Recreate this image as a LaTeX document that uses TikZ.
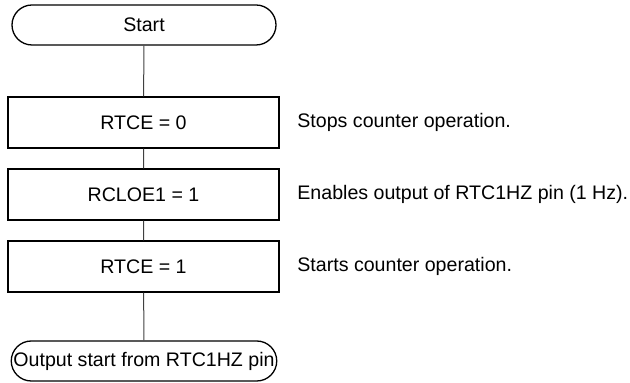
\documentclass[tikz,border=0pt]{standalone}
\usepackage{fontspec}
\setmainfont{Liberation Sans}
\usepackage{tikz}
\usetikzlibrary{shapes.misc}

\begin{document}
\begin{tikzpicture}[x=0.5pt,y=-0.5pt,
  font=\fontsize{9.8}{11}\selectfont,
  terminal/.style={draw,rounded rectangle,line width=0.65pt,minimum width=132pt,minimum height=20pt,inner sep=0pt},
  stepbox/.style={draw,rectangle,line width=0.65pt,minimum width=135.5pt,minimum height=25.5pt,inner sep=0pt},
  note/.style={anchor=west,inner sep=0pt},
  flow/.style={draw=black!75,line width=0.5pt}]
  \useasboundingbox (0,0) rectangle (630,383);
  \node[terminal] (start) at (144,25) {Start};
  \node[stepbox] (stop) at (143.5,122.5) {RTCE = 0};
  \node[stepbox] (enable) at (143.5,194.5) {RCLOE1 = 1};
  \node[stepbox] (run) at (143.5,266.5) {RTCE = 1};
  \node[terminal] (output) at (144,361) {Output start from RTC1HZ pin};
  \node[note] (stopnote) at (297,122) {Stops counter operation.};
  \node[note] (enablenote) at (297,194) {Enables output of RTC1HZ pin (1 Hz).};
  \node[note] (runnote) at (297,266) {Starts counter operation.};
  \path[flow] (start) -- (stop) -- (enable) -- (run) -- (output);
\end{tikzpicture}
\end{document}
